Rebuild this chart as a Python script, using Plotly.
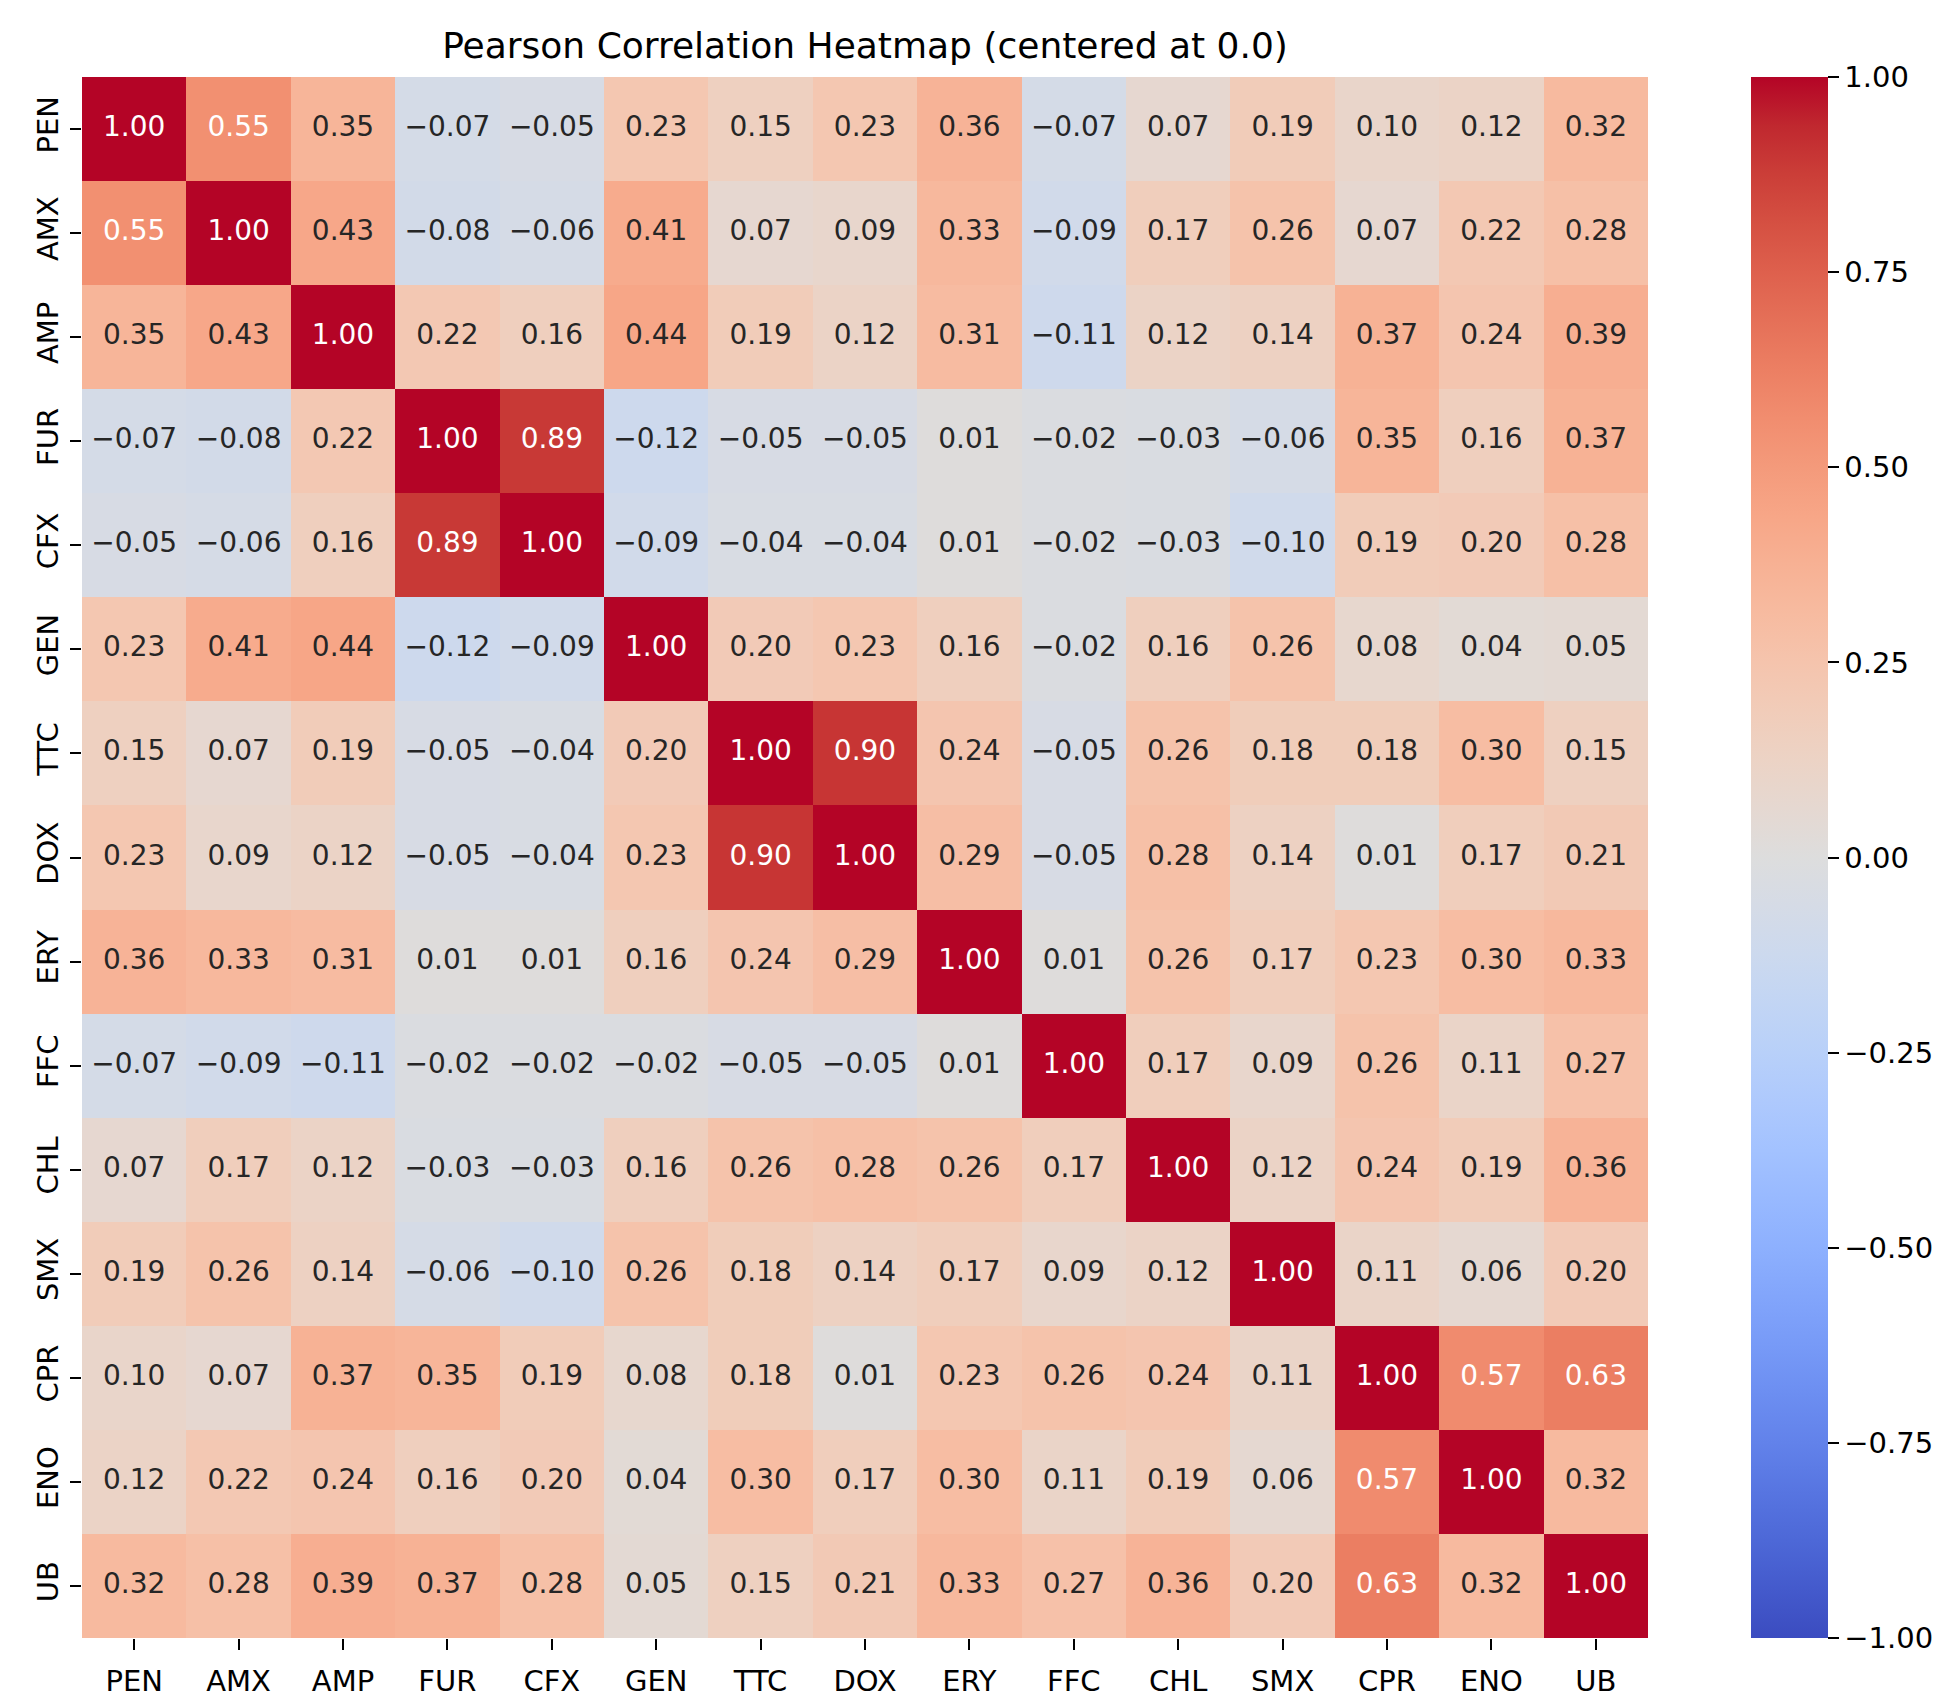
import numpy as np
import plotly.graph_objects as go

# Labels of the antibiotics
labels = ['PEN', 'AMX', 'AMP', 'FUR', 'CFX', 'GEN', 'TTC', 'DOX',
          'ERY', 'FFC', 'CHL', 'SMX', 'CPR', 'ENO', 'UB']

# Correlation rows
pen = [1.00, 0.55, 0.35, -0.07, -0.05, 0.23, 0.15, 0.23, 0.36, -0.07, 0.07, 0.19, 0.10, 0.12, 0.32]
amx = [0.55, 1.00, 0.43, -0.08, -0.06, 0.41, 0.07, 0.09, 0.33, -0.09, 0.17, 0.26, 0.07, 0.22, 0.28]
amp = [0.35, 0.43, 1.00, 0.22, 0.16, 0.44, 0.19, 0.12, 0.31, -0.11, 0.12, 0.14, 0.37, 0.24, 0.39]
fur = [-0.07, -0.08, 0.22, 1.00, 0.89, -0.12, -0.05, -0.05, 0.01, -0.02, -0.03, -0.06, 0.35, 0.16, 0.37]
cfx = [-0.05, -0.06, 0.16, 0.89, 1.00, -0.09, -0.04, -0.04, 0.01, -0.02, -0.03, -0.10, 0.19, 0.20, 0.28]
gen = [0.23, 0.41, 0.44, -0.12, -0.09, 1.00, 0.20, 0.23, 0.16, -0.02, 0.16, 0.26, 0.08, 0.04, 0.05]
ttc = [0.15, 0.07, 0.19, -0.05, -0.04, 0.20, 1.00, 0.90, 0.24, -0.05, 0.26, 0.18, 0.18, 0.30, 0.15]
dox = [0.23, 0.09, 0.12, -0.05, -0.04, 0.23, 0.90, 1.00, 0.29, -0.05, 0.28, 0.14, 0.01, 0.17, 0.21]
ery = [0.36, 0.33, 0.31, 0.01, 0.01, 0.16, 0.24, 0.29, 1.00, 0.01, 0.26, 0.17, 0.23, 0.30, 0.33]
ffc = [-0.07, -0.09, -0.11, -0.02, -0.02, -0.02, -0.05, -0.05, 0.01, 1.00, 0.17, 0.09, 0.26, 0.11, 0.27]
chl = [0.07, 0.17, 0.12, -0.03, -0.03, 0.16, 0.26, 0.28, 0.26, 0.17, 1.00, 0.12, 0.24, 0.19, 0.36]
smx = [0.19, 0.26, 0.14, -0.06, -0.10, 0.26, 0.18, 0.14, 0.17, 0.09, 0.12, 1.00, 0.11, 0.06, 0.20]
cpr = [0.10, 0.07, 0.37, 0.35, 0.19, 0.08, 0.18, 0.01, 0.23, 0.26, 0.24, 0.11, 1.00, 0.57, 0.63]
eno = [0.12, 0.22, 0.24, 0.16, 0.20, 0.04, 0.30, 0.17, 0.30, 0.11, 0.19, 0.06, 0.57, 1.00, 0.32]
ub = [0.32, 0.28, 0.39, 0.37, 0.28, 0.05, 0.15, 0.21, 0.33, 0.27, 0.36, 0.20, 0.63, 0.32, 1.00]

cbar_ticks = [-1.0, -0.75, -0.5, -0.25, 0.0, 0.25, 0.5, 0.75, 1.0]

corr = np.array([pen, amx, amp, fur, cfx, gen, ttc, dox, ery, ffc, chl, smx, cpr, eno, ub])

# matplotlib "coolwarm" (Moreland table, 33 stops)
cw = [(59, 76, 192), (68, 90, 204), (77, 104, 215), (87, 117, 225), (98, 130, 234),
      (108, 142, 241), (119, 154, 247), (130, 165, 251), (141, 176, 254), (152, 185, 255),
      (163, 194, 255), (174, 201, 253), (184, 208, 249), (194, 213, 244), (204, 217, 238),
      (213, 219, 230), (221, 221, 221), (229, 216, 209), (236, 211, 197), (241, 204, 185),
      (245, 196, 173), (247, 187, 160), (247, 177, 148), (247, 166, 135), (244, 154, 123),
      (241, 141, 111), (236, 127, 99), (229, 112, 88), (222, 96, 77), (213, 80, 66),
      (203, 62, 56), (192, 40, 47), (180, 4, 38)]
colorscale = [[i / 32, 'rgb(%d,%d,%d)' % c] for i, c in enumerate(cw)]


def lum(v):
    # relative luminance of the coolwarm colour for a value in [-1, 1]
    t = (v + 1) / 2 * 32
    i = min(int(t), 31)
    f = t - i
    rgb = [(cw[i][k] + (cw[i + 1][k] - cw[i][k]) * f) / 255 for k in range(3)]
    rgb = [c / 12.92 if c <= 0.03928 else ((c + 0.055) / 1.055) ** 2.4 for c in rgb]
    return 0.2126 * rgb[0] + 0.7152 * rgb[1] + 0.0722 * rgb[2]


def fmt(v):
    return ('%.2f' % v).replace('-', '\u2212')


font = 'DejaVu Sans'
n = len(labels)

fig = go.Figure()

fig.add_trace(go.Heatmap(
    z=corr, x=labels, y=labels,
    colorscale=colorscale, zmin=-1, zmax=1,
    hoverinfo='skip',
    colorbar=dict(
        x=1.0658, xanchor='left', xpad=0, xref='paper',
        y=0.5, yanchor='middle', len=1, lenmode='fraction', ypad=0,
        thickness=77, outlinewidth=0,
        tickvals=cbar_ticks, ticktext=[fmt(t) for t in cbar_ticks],
        ticks='outside', ticklen=11, tickwidth=2, tickcolor='black',
        tickfont=dict(family=font, size=29, color='black'),
    ),
))

# cell annotations
xs, ys, txt, cols = [], [], [], []
for i, r in enumerate(labels):
    for j, c in enumerate(labels):
        v = corr[i, j]
        xs.append(c)
        ys.append(r)
        txt.append(fmt(v))
        cols.append('white' if lum(v) < 0.408 else '#262626')

fig.add_trace(go.Scatter(
    x=xs, y=ys, text=txt, mode='text',
    textfont=dict(family=font, size=28, color=cols),
    hoverinfo='skip', showlegend=False,
))

fig.update_layout(
    width=1944, height=1701,
    margin=dict(l=74, r=304, t=69, b=71, autoexpand=False),
    paper_bgcolor='white', plot_bgcolor='white',
    title=dict(text='Pearson Correlation Heatmap (centered at 0.0)',
               x=0.5, xref='paper', xanchor='center',
               y=1 - 37 / 1701, yanchor='middle',
               font=dict(family=font, size=36, color='black')),
    xaxis=dict(showgrid=False, zeroline=False, showline=False,
               range=[-0.5, n - 0.5], automargin=False,
               ticks='outside', ticklen=11, tickwidth=2, tickcolor='black',
               tickfont=dict(family=font, size=29, color='black'),
               ticklabelstandoff=6),
    yaxis=dict(showgrid=False, zeroline=False, showline=False,
               range=[n - 0.5, -0.5], automargin=False,
               ticks='outside', ticklen=11, tickwidth=2, tickcolor='black',
               tickangle=-90,
               tickfont=dict(family=font, size=29, color='black'),
               ticklabelstandoff=0),
    showlegend=False,
)

fig.write_html("out.html")
